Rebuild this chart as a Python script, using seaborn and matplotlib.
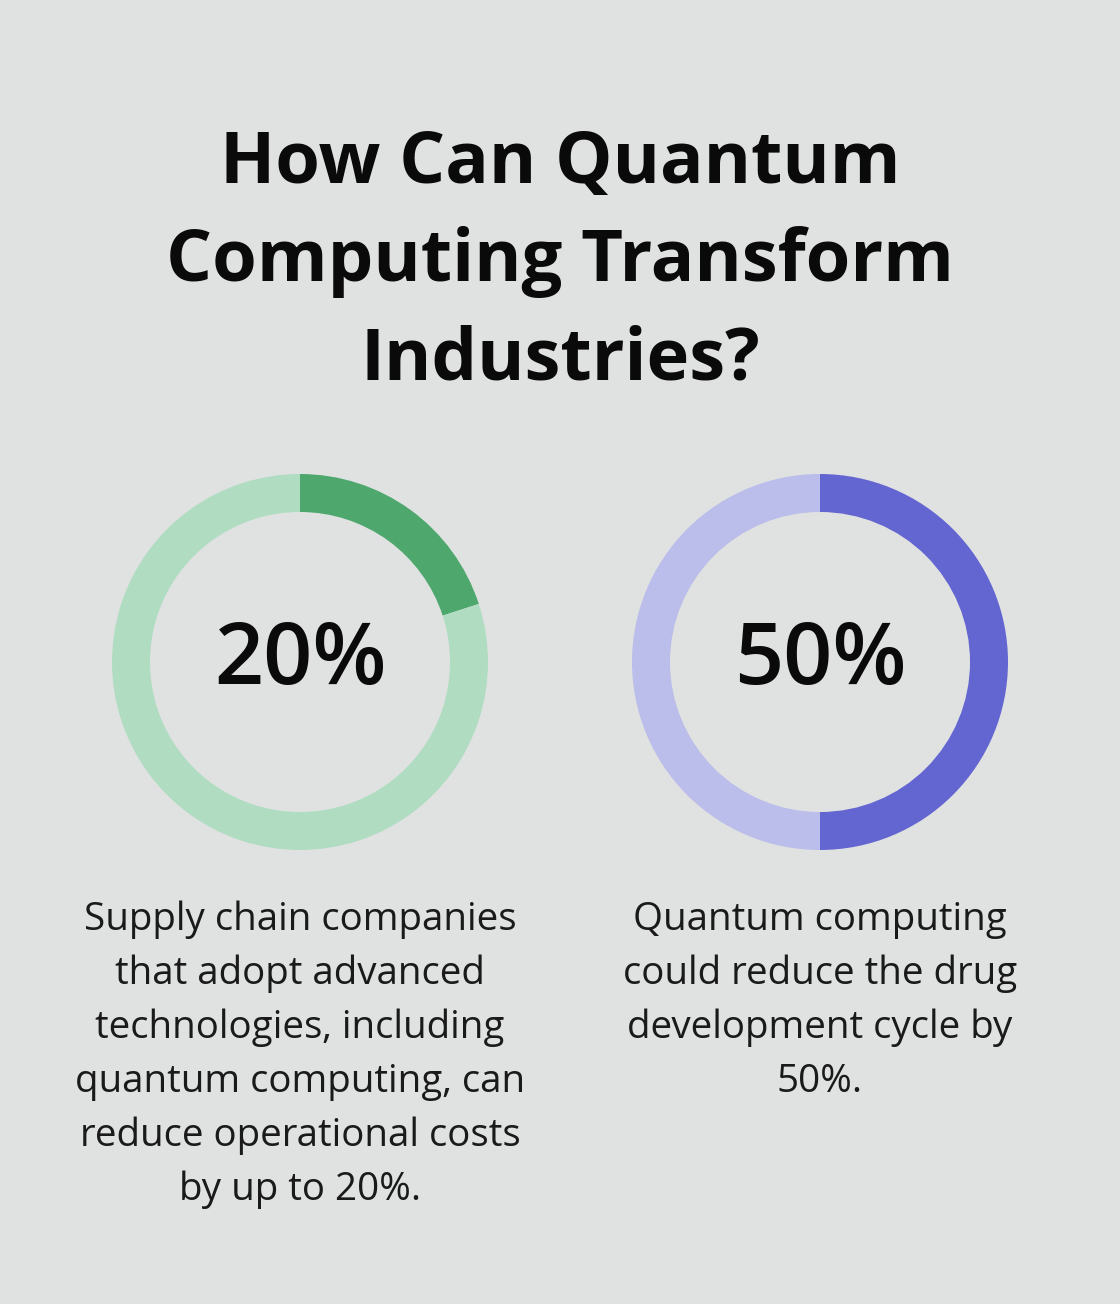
import matplotlib
matplotlib.use("Agg")
import matplotlib.pyplot as plt
import seaborn as sns

# --- data ---
title_lines = ["How Can Quantum", "Computing Transform", "Industries?"]
percent_values = [20, 50]
percent_labels = ["20%", "50%"]
dark_colors = ["#4EA86E", "#6366D1"]
light_colors = ["#B0DCC2", "#BBBDEA"]
descriptions = [
    ["Supply chain companies", "that adopt advanced", "technologies, including",
     "quantum computing, can", "reduce operational costs", "by up to 20%."],
    ["Quantum computing", "could reduce the drug", "development cycle by", "50%."],
]

bg = "#E0E2E1"
sns.set_theme(style="white", rc={"figure.facecolor": bg, "axes.facecolor": bg})
plt.rcParams["font.family"] = "Open Sans"

W, H = 1120, 1304
fig = plt.figure(figsize=(W / 100, H / 100), dpi=100)

# title
for i, line in enumerate(title_lines):
    fig.text(0.5, 1 - (164 + i * 98) / H, line, ha="center", va="center",
             fontsize=52, fontweight="bold", color="#0a0a0a")

centers_x = [300, 820]
cy = 662
r = 188
for k, (val, lab) in enumerate(zip(percent_values, percent_labels)):
    cx = centers_x[k]
    ax = fig.add_axes([(cx - r) / W, 1 - (cy + r) / H, 2 * r / W, 2 * r / H])
    ax.pie([val, 100 - val], colors=[dark_colors[k], light_colors[k]],
           startangle=90, counterclock=False,
           wedgeprops=dict(width=38 / r, linewidth=0))
    ax.set_xlim(-1, 1)
    ax.set_ylim(-1, 1)
    ax.set_aspect("equal")
    ax.axis("off")
    ax.text(0, 0, lab, ha="center", va="center", fontsize=62,
            fontweight="semibold", color="#0a0a0a")
    for j, line in enumerate(descriptions[k]):
        fig.text(cx / W, 1 - (920 + j * 54) / H, line, ha="center", va="center",
                 fontsize=27.7, color="#1a1a1a")

fig.savefig("out.png", dpi=100, facecolor=bg)
